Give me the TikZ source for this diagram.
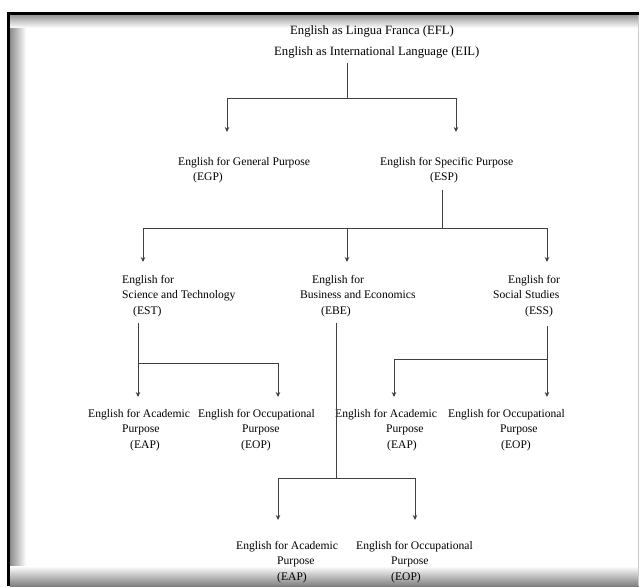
\documentclass[tikz,border=0pt]{standalone}
\usepackage{fontspec}
\setmainfont{Liberation Serif}
\usetikzlibrary{arrows.meta}

\begin{document}
\begin{tikzpicture}[x=1pt,y=-1pt,
    lbl/.style={inner sep=0pt,anchor=north west,align=left,font=\fontsize{11.6}{15.5}\selectfont},
    toplbl/.style={lbl,font=\fontsize{12.7}{21}\selectfont},
    link/.style={line width=0.8pt,black!75},
    arr/.style={link,->,>={Stealth[length=5pt,width=4.5pt]}}]
       \useasboundingbox(0,0)rectangle(639,586);%画面

       % 枠と影
       \shade[left color=black!45,right color=white](10,15)rectangle(26,586);
       \shade[top color=black!40,bottom color=white](10,15)rectangle(639,28);
       \shade[top color=white,bottom color=black!50](10,566)rectangle(639,586);
       \draw[black!20](638,15)--(638,586);
       \fill(7,13)rectangle(10,586);%左の線
       \fill(7,12.5)rectangle(639,15);%上の線

       % 項目
       \node[toplbl](efl)at(274,25.5){\hspace*{16pt}English as Lingua Franca (EFL)\\English as International Language (EIL)};
       \node[lbl](egp)at(178,157){English for General Purpose\\\hspace*{15pt}(EGP)};
       \node[lbl](esp)at(380,157){English for Specific Purpose\\\hspace*{50pt}(ESP)};
       \node[lbl](est)at(122,275){English for\\Science and Technology\\\hspace*{11pt}(EST)};
       \node[lbl](ebe)at(300,275){\hspace*{12pt}English for\\Business and Economics\\\hspace*{21pt}(EBE)};
       \node[lbl](ess)at(493,275){\hspace*{15pt}English for\\Social Studies\\\hspace*{32pt}(ESS)};
       \node[lbl](eapA)at(88,409){English for Academic\\\hspace*{34pt}Purpose\\\hspace*{42pt}(EAP)};
       \node[lbl](eopA)at(198,409){English for Occupational\\\hspace*{44pt}Purpose\\\hspace*{43pt}(EOP)};
       \node[lbl](eapB)at(335,409){English for Academic\\\hspace*{51pt}Purpose\\\hspace*{52pt}(EAP)};
       \node[lbl](eopB)at(448,409){English for Occupational\\\hspace*{52pt}Purpose\\\hspace*{53pt}(EOP)};
       \node[lbl](eapC)at(236,541){English for Academic\\\hspace*{41pt}Purpose\\\hspace*{41pt}(EAP)};
       \node[lbl](eopC)at(356,541){English for Occupational\\\hspace*{35pt}Purpose\\\hspace*{35pt}(EOP)};

       % 分岐点と矢印の先
       \coordinate(eflS)at(347,63);%EFLの下
       \coordinate(eflJ)at(347,98);%分岐
       \coordinate(egpT)at(227,132);
       \coordinate(espT)at(456,132);
       \coordinate(espS)at(442,190);%ESPの下
       \coordinate(espJ)at(442,228);%分岐
       \coordinate(estT)at(143,262);
       \coordinate(ebeT)at(347,262);
       \coordinate(essT)at(547,262);
       \coordinate(estS)at(138,323);%ESTの下
       \coordinate(estJ)at(138,363);
       \coordinate(eapAT)at(138,397);
       \coordinate(eopAT)at(278,397);
       \coordinate(ebeS)at(336,323);%EBEの下
       \coordinate(ebeJ)at(336,478);
       \coordinate(eapCT)at(278,520);
       \coordinate(eopCT)at(415,520);
       \coordinate(essS)at(547,326);%ESSの下
       \coordinate(essJ)at(547,359);
       \coordinate(eapBT)at(394,397);
       \coordinate(eopBT)at(547,397);

       % 線
       \draw[link](eflS)--(eflJ);
       \draw[arr](eflJ)-|(egpT);
       \draw[arr](eflJ)-|(espT);
       \draw[link](espS)--(espJ);
       \foreach \t in{estT,ebeT,essT}
           \draw[arr](espJ)-|(\t);
       \draw[arr](estS)--(eapAT);
       \draw[arr](estJ)-|(eopAT);
       \draw[link](ebeS)--(ebeJ);
       \foreach \t in{eapCT,eopCT}
           \draw[arr](ebeJ)-|(\t);
       \draw[arr](essS)--(eopBT);
       \draw[arr](essJ)-|(eapBT);
\end{tikzpicture}
\end{document}
